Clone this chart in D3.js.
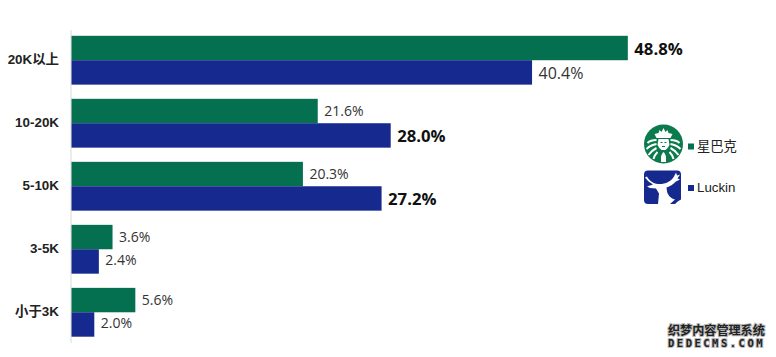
<!DOCTYPE html>
<html><head><meta charset="utf-8">
<script src="https://cdn.jsdelivr.net/npm/d3@7/dist/d3.min.js"></script>
<style>html,body{margin:0;background:#fff;overflow:hidden}svg{display:block}</style>
</head><body><svg id="c" width="776" height="357"></svg>
<script>
const categories=["20K以上","10-20K","5-10K","3-5K","小于3K"];
const starbucks=[48.8,21.6,20.3,3.6,5.6];
const luckin=[40.4,28.0,27.2,2.4,2.0];
const seriesNames=["星巴克","Luckin"];
const colors=["#04704f","#16298f"];
const boldLabels=[[true,false,false,false,false],[false,true,true,false,false]];
const labelSizes=[[16.7,14,14,14,14],[16,16.7,16.7,14,14]];
const labelNudge=[[2.5,1.5,1,1.5,1],[2,2,2,0,0]];
const font="'Open Sans','Noto Sans CJK SC',sans-serif";
const cjk="'Liberation Sans','Noto Sans CJK SC',sans-serif";

const svg=d3.select("#c");
const x=d3.scaleLinear().domain([0,50]).range([71.5,641.5]);
const y=d3.scaleBand().domain(categories).range([29.5,343]).paddingInner(0.225).paddingOuter(0.1);
const sub=d3.scaleBand().domain([0,1]).range([0,y.bandwidth()]);

svg.append("line").attr("x1",x(0)-.5).attr("x2",x(0)-.5).attr("y1",30).attr("y2",343).attr("stroke","#d9d9d9").attr("stroke-width",1);

[starbucks,luckin].forEach((vals,s)=>{
  const g=svg.append("g");
  g.selectAll("rect").data(vals).join("rect")
   .attr("x",x(0)).attr("y",(d,i)=>y(categories[i])+sub(s))
   .attr("width",d=>x(d)-x(0)).attr("height",sub.bandwidth()).attr("fill",colors[s]);
  g.selectAll("text").data(vals).join("text")
   .attr("x",d=>x(d)+6.5)
   .attr("y",(d,i)=>y(categories[i])+sub(s)+sub.bandwidth()/2+labelNudge[s][i])
   .attr("dominant-baseline","middle")
   .attr("font-family",font)
   .attr("font-size",(d,i)=>labelSizes[s][i])
   .attr("font-weight",(d,i)=>boldLabels[s][i]?700:400)
   .attr("fill",(d,i)=>boldLabels[s][i]?"#111":"#333")
   .text(d=>d.toFixed(1)+"%");
});

svg.append("g").selectAll("text").data(categories).join("text")
  .attr("x",59).attr("y",d=>y(d)+y.bandwidth()/2+.5)
  .attr("text-anchor","end").attr("dominant-baseline","middle")
  .attr("font-family",cjk).attr("font-size",13.4).attr("font-weight",700).attr("fill","#222")
  .text(d=>d);

// legend
const legendY=[146.5,188];
seriesNames.forEach((n,i)=>{
  svg.append("rect").attr("x",688).attr("y",legendY[i]-3).attr("width",6).attr("height",6).attr("fill",colors[i]);
  svg.append("text").attr("x",697).attr("y",legendY[i]+.5).attr("dominant-baseline","middle")
    .attr("font-family",cjk).attr("font-size",13.3).attr("fill","#222").text(n);
});

// Starbucks logo
const sb=svg.append("g").attr("transform","translate(663.5,144)");
sb.append("circle").attr("r",19.5).attr("fill","#0b7a4c");
sb.append("path").attr("d","M-9,-10 L-5,-11 L-4,-14 L-2,-12 L0,-16 L2,-12 L4,-14 L5,-11 L9,-10 L7,-6 L-7,-6 Z").attr("fill","#fff");
sb.append("g").attr("stroke","#fff").attr("stroke-width",2).attr("fill","none").selectAll("path")
  .data(["M-7,-4 Q-13,-4 -16,-1","M-7,0 Q-13,1 -17,5","M-7,4 Q-11,6 -15,11","M-6,8 Q-9,11 -10,15",
         "M7,-4 Q13,-4 16,-1","M7,0 Q13,1 17,5","M7,4 Q11,6 15,11","M6,8 Q9,11 10,15"])
  .join("path").attr("d",d=>d);
sb.append("path").attr("d","M-5,-5 H5 L6,1 Q4,5 2,6 H-2 Q-4,5 -6,1 Z").attr("fill","#fff");
sb.append("path").attr("d","M-3,-2 h2 v1 h-2 Z M1,-2 h2 v1 h-2 Z M-1.5,2 h3 v1 h-3 Z").attr("fill","#0b7a4c");
sb.append("path").attr("d","M-2.5,18 Q-3,10 0,8 Q3,10 2.5,18 Z").attr("fill","#fff");

// Luckin logo
const lk=svg.append("g").attr("transform","translate(644,170.5)");
lk.append("rect").attr("width",37).attr("height",33.5).attr("rx",4).attr("fill","#16298f");
lk.append("path").attr("d","M1,7 L3,6 C5,10 9,13 14,13.5 C21,14 27,11 30,6 L32,2 L33,5 L36,4 L33.5,8 L36,9 L32,11 C29,14 26,16 22.5,17 L23,21 C24,25 27,28 31,29 L26,33.5 L14,33.5 L15,23 L12,18 L6,17.5 L3,16 L9,14 C6,12 3,10 1,7 Z").attr("fill","#fff");
lk.append("path").attr("d","M31,33.5 L37,33.5 L37,29 Q34,30 31,33.5 Z").attr("fill","#fff");

// watermark
const wm=svg.append("g").attr("text-anchor","start");
[["织梦内容管理系统",668,334.5,12.1,700,cjk,0],["DEDECMS.COM",668,346.5,10.5,700,"'DejaVu Sans Mono',monospace",2.5]].forEach(t=>{
  wm.append("text").attr("x",t[1]).attr("y",t[2]).attr("font-size",t[3]).attr("font-weight",t[4]).attr("font-family",t[5])
    .attr("letter-spacing",t[6]).attr("fill","#222").attr("stroke","#bbb").attr("stroke-width",2).attr("paint-order","stroke").text(t[0]);
});
</script></body></html>
